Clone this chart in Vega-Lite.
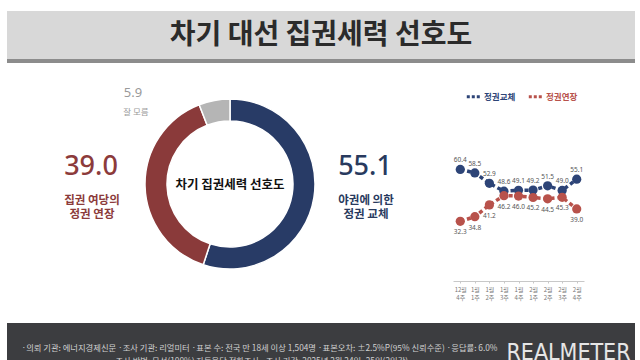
{
  "$schema": "https://vega.github.io/schema/vega-lite/v6.json",
  "padding": {"top": 11, "left": 7, "right": 0, "bottom": 0},
  "background": "white",
  "config": {"view": {"stroke": null}, "font": "Noto Sans CJK KR"},
  "datasets": {
    "title": [{"t": "차기 대선 집권세력 선호도"}],
    "share": [
      {"key": "교체", "value": 55.1, "caption": "야권에 의한|정권 교체"},
      {"key": "연장", "value": 39.0, "caption": "집권 여당의|정권 연장"},
      {"key": "모름", "value": 5.9, "caption": "잘 모름"}
    ],
    "trend": [
      {"week": "12월 4주", "series": "정권교체", "value": 60.4},
      {"week": "1월 1주", "series": "정권교체", "value": 58.5},
      {"week": "1월 2주", "series": "정권교체", "value": 52.9},
      {"week": "1월 3주", "series": "정권교체", "value": 48.6},
      {"week": "1월 4주", "series": "정권교체", "value": 49.1},
      {"week": "2월 1주", "series": "정권교체", "value": 49.2},
      {"week": "2월 2주", "series": "정권교체", "value": 51.5},
      {"week": "2월 3주", "series": "정권교체", "value": 49.0},
      {"week": "2월 4주", "series": "정권교체", "value": 55.1},
      {"week": "12월 4주", "series": "정권연장", "value": 32.3},
      {"week": "1월 1주", "series": "정권연장", "value": 34.8},
      {"week": "1월 2주", "series": "정권연장", "value": 41.2},
      {"week": "1월 3주", "series": "정권연장", "value": 46.2},
      {"week": "1월 4주", "series": "정권연장", "value": 46.0},
      {"week": "2월 1주", "series": "정권연장", "value": 45.2},
      {"week": "2월 2주", "series": "정권연장", "value": 44.5},
      {"week": "2월 3주", "series": "정권연장", "value": 45.3},
      {"week": "2월 4주", "series": "정권연장", "value": 39.0}
    ],
    "footer": [{"t": "·의뢰 기관: 에너지경제신문 ·조사 기관: 리얼미터 ·표본 수: 전국 만 18세 이상 1,504명 ·표본오차: ±2.5%P(95% 신뢰수준) ·응답률: 6.0%|·조사 방법: 무선(100%) 자동응답 전화조사 ·조사 기간: 2025년 2월 24일~25일(2일간)"}]
  },
  "spacing": 0,
  "vconcat": [
    {
      "width": 628, "height": 48,
      "view": {"fill": "#d8d8d8"},
      "data": {"name": "title"},
      "mark": {"type": "text", "fontSize": 28, "fontWeight": "bold", "color": "#2b2b2b", "align": "center", "baseline": "middle", "dy": 1},
      "encoding": {"text": {"field": "t"}}
    },
    {
      "width": 628, "height": 4,
      "view": {"fill": "#8c8c8c"},
      "data": {"values": [{}]},
      "mark": {"type": "text", "fontSize": 1},
      "encoding": {"text": {"value": ""}}
    },
    {
      "spacing": 0,
      "bounds": "flush",
      "resolve": {"scale": {"color": "independent", "fill": "independent"}},
      "hconcat": [
        {
          "width": 446, "height": 242,
          "data": {"name": "share"},
          "layer": [
            {
              "mark": {"type": "arc", "innerRadius": 63, "outerRadius": 85, "stroke": "#ffffff", "strokeWidth": 1.5},
              "encoding": {
                "theta": {"field": "value", "type": "quantitative", "stack": true},
                "fill": {"field": "key", "type": "nominal", "scale": {"domain": ["교체", "연장", "모름"], "range": ["#283b66", "#8a3a3a", "#b5b5b5"]}, "legend": null},
                "order": {"field": "value", "type": "quantitative", "sort": "descending"}
              }
            },
            {
              "data": {"values": [{"t": "차기 집권세력 선호도"}]},
              "mark": {"type": "text", "fontSize": 12.5, "fontWeight": "bold", "letterSpacing": -0.3, "color": "#111111", "dy": 1},
              "encoding": {"text": {"field": "t"}}
            },
            {
              "transform": [{"filter": "datum.key === '교체'"}],
              "mark": {"type": "text", "font": "Noto Sans", "fontSize": 27, "fontWeight": 500, "letterSpacing": 1.5, "color": "#283a5e", "dx": 135, "dy": -17},
              "encoding": {"text": {"field": "value", "type": "quantitative", "format": ".1f"}}
            },
            {
              "transform": [{"filter": "datum.key === '교체'"}],
              "mark": {"type": "text", "fontSize": 11.5, "fontWeight": "bold", "lineBreak": "|", "lineHeight": 14.5, "color": "#283a5e", "dx": 136, "dy": 16.5},
              "encoding": {"text": {"field": "caption"}}
            },
            {
              "transform": [{"filter": "datum.key === '연장'"}],
              "mark": {"type": "text", "font": "Noto Sans", "fontSize": 27, "fontWeight": 500, "letterSpacing": 1.5, "color": "#8c3b3b", "dx": -139, "dy": -17},
              "encoding": {"text": {"field": "value", "type": "quantitative", "format": ".1f"}}
            },
            {
              "transform": [{"filter": "datum.key === '연장'"}],
              "mark": {"type": "text", "fontSize": 11.5, "fontWeight": "bold", "lineBreak": "|", "lineHeight": 14.5, "color": "#8c3b3b", "dx": -138, "dy": 16.5},
              "encoding": {"text": {"field": "caption"}}
            },
            {
              "transform": [{"filter": "datum.key === '모름'"}],
              "mark": {"type": "text", "font": "Noto Sans", "fontSize": 13, "color": "#9a9a9a", "letterSpacing": 1, "dx": -97, "dy": -91},
              "encoding": {"text": {"field": "value", "type": "quantitative", "format": ".1f"}}
            },
            {
              "transform": [{"filter": "datum.key === '모름'"}],
              "mark": {"type": "text", "fontSize": 8.5, "color": "#9a9a9a", "dx": -94, "dy": -72},
              "encoding": {"text": {"field": "caption"}}
            }
          ]
        },
        {
          "width": 131, "height": 218,
          "data": {"name": "trend"},
          "encoding": {
            "x": {
              "field": "week", "type": "nominal", "sort": null,
              "scale": {"type": "point", "padding": 0.5},
              "axis": {"title": null, "labelExpr": "split(datum.label, ' ')", "labelAngle": 0, "labelFontSize": 6, "labelColor": "#777777", "labelLineHeight": 8.5, "labelPadding": 3, "domainColor": "#c8c8c8", "tickColor": "#c8c8c8", "tickSize": 2, "grid": false, "labelBaseline": "top"}
            },
            "y": {"field": "value", "type": "quantitative", "scale": {"domain": [0, 118], "nice": false}, "axis": null}
          },
          "layer": [
            {
              "mark": {"type": "line", "strokeWidth": 3.5, "strokeDash": [4, 3]},
              "encoding": {
                "color": {
                  "field": "series", "type": "nominal",
                  "scale": {"domain": ["정권교체", "정권연장"], "range": ["#2d4477", "#b8524b"]},
                  "legend": {
                    "orient": "none", "legendX": 12, "legendY": 25, "direction": "horizontal", "title": null,
                    "symbolType": "stroke", "symbolStrokeWidth": 3, "symbolDash": [3, 2], "symbolSize": 180,
                    "labelFontSize": 8.5, "labelFontWeight": "bold", "columnPadding": 6, "labelOffset": 2,
                    "encode": {"labels": {"update": {"fill": {"signal": "datum.value === '정권교체' ? '#2d4477' : '#b8524b'"}}}}
                  }
                }
              }
            },
            {
              "mark": {"type": "point", "filled": true, "size": 85, "opacity": 1},
              "encoding": {"color": {"field": "series", "type": "nominal", "legend": null}}
            },
            {
              "transform": [{"filter": "datum.series === '정권교체'"}],
              "mark": {"type": "text", "font": "Noto Sans", "fontSize": 6.5, "color": "#555555", "dy": -9},
              "encoding": {"text": {"field": "value", "type": "quantitative", "format": ".1f"}}
            },
            {
              "transform": [{"filter": "datum.series === '정권연장'"}],
              "mark": {"type": "text", "font": "Noto Sans", "fontSize": 6.5, "color": "#555555", "dy": 11},
              "encoding": {"text": {"field": "value", "type": "quantitative", "format": ".1f"}}
            }
          ]
        }
      ]
    },
    {
      "width": 628, "height": 18,
      "data": {"values": [{}]},
      "mark": {"type": "text", "fontSize": 1},
      "encoding": {"text": {"value": ""}}
    },
    {
      "spacing": 0,
      "bounds": "flush",
      "hconcat": [
        {
          "width": 495, "height": 37,
          "view": {"fill": "#3c3d40"},
          "data": {"name": "footer"},
          "mark": {"type": "text", "fontSize": 8.3, "color": "#d0d0d0", "lineBreak": "|", "lineHeight": 13, "dx": 5, "dy": 7},
          "encoding": {"text": {"field": "t"}}
        },
        {
          "width": 133, "height": 37,
          "view": {"fill": "#3c3d40"},
          "data": {"values": [{"t": "REALMETER"}]},
          "mark": {"type": "text", "font": "DejaVu Sans Condensed", "fontSize": 23, "letterSpacing": -2, "color": "#e6e6e6", "dy": 11},
          "encoding": {"text": {"field": "t"}}
        }
      ]
    }
  ]
}
